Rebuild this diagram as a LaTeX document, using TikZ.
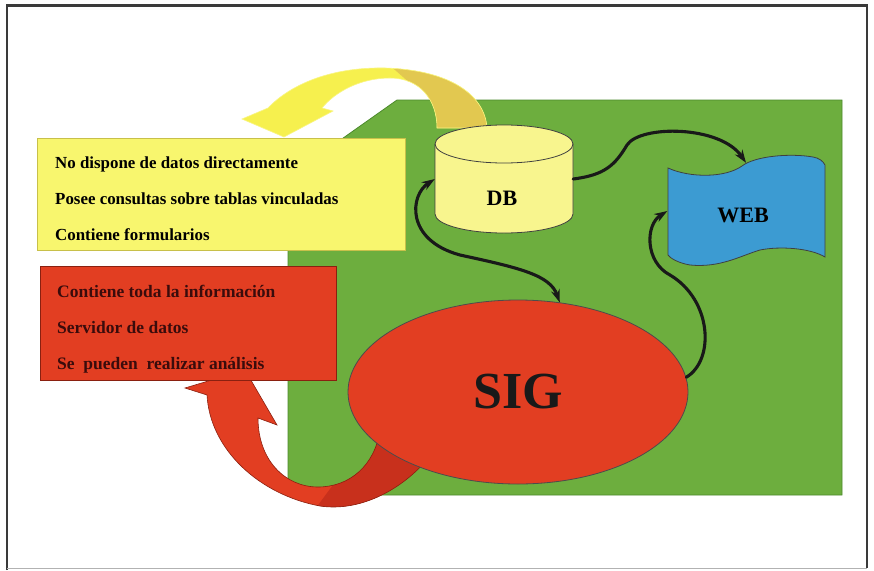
\documentclass[tikz,border=0pt]{standalone}
\usepackage{fontspec}
\setmainfont{Liberation Serif}
\usetikzlibrary{shapes.geometric,arrows.meta}
\definecolor{grn}{HTML}{6DAE3E}
\definecolor{grnline}{HTML}{4C8A2C}
\definecolor{ybox}{HTML}{F8F66E}
\definecolor{yline}{HTML}{C8C04A}
\definecolor{dbfill}{HTML}{F8F58E}
\definecolor{yarrow}{HTML}{F6F04E}
\definecolor{gold}{HTML}{E2C850}
\definecolor{redfill}{HTML}{E23E22}
\definecolor{reddark}{HTML}{C8301C}
\definecolor{redline}{HTML}{8A2010}
\definecolor{bluefill}{HTML}{3C9BD2}
\definecolor{redtext}{HTML}{3A0C0C}
\definecolor{frame}{HTML}{3A3A3A}
\begin{document}
\begin{tikzpicture}[x=1pt,y=-1pt,
  yboxstyle/.style={draw=yline,line width=0.6pt,fill=ybox,minimum width=368pt,minimum height=112pt,inner sep=0pt},
  rboxstyle/.style={draw=redline,line width=0.6pt,fill=redfill,minimum width=296pt,minimum height=114pt,inner sep=0pt},
  ytext/.style={anchor=base west,inner sep=0pt,font=\fontsize{16.9}{18}\selectfont\bfseries,text=black},
  rtext/.style={anchor=base west,inner sep=0pt,font=\fontsize{17.5}{19}\selectfont\bfseries,text=redtext},
  bigtext/.style={inner sep=0pt,font=\fontsize{22}{24}\selectfont\bfseries,text=black},
  conn/.style={line width=3.1pt,black!90,line cap=round},
  tipA/.tip={Stealth[length=13pt,width=9pt]}
]
\useasboundingbox (0,0) rectangle (874,570);
\fill[white] (0,0) rectangle (874,570);
% frame
\draw[frame,line width=1.5pt] (7,570) -- (7,5);
\draw[frame,line width=3pt] (6,5) -- (868,5);
\draw[frame,line width=1.5pt] (867,5) -- (867,568);
\draw[black!30,line width=0.8pt] (7,568) -- (867,568);
% green region
\fill[grn,draw=grnline,line width=0.8pt] (397,100) -- (842,100) -- (842,495) -- (288,495) -- (288,177) -- cycle;
% yellow curved arrow
\def\yarrowpath{(487,128) .. controls (485,95) and (450,70) .. (385,68) .. controls (330,67) and (290,85) .. (268,108) -- (242,119) -- (284,137) -- (333,111) -- (322,108) .. controls (335,92) and (360,78) .. (390,78) .. controls (420,78) and (437,100) .. (437,128) -- cycle}
\fill[yarrow] \yarrowpath;
\begin{scope}
\clip \yarrowpath;
\fill[gold] (378,55) -- (420,92) -- (420,140) -- (500,140) -- (500,55) -- cycle;
\end{scope}
\draw[yarrow!70!white,line width=0.6pt] \yarrowpath;
% red curved arrow
\def\rarrowpath{(207,395) .. controls (210,450) and (260,495) .. (320,506) .. controls (360,512) and (400,490) .. (425,462) -- (380,430) .. controls (375,465) and (350,487) .. (318,487) .. controls (285,487) and (258,460) .. (258,418) -- (277,425) -- (245,370) -- (185,388) -- cycle}
\fill[redfill] \rarrowpath;
\begin{scope}
\clip \rarrowpath;
\fill[reddark] (372,432) -- (313,512) -- (460,512) -- (460,420) -- cycle;
\end{scope}
\draw[redline,line width=0.6pt] \rarrowpath;
% boxes
\node[yboxstyle] (ybox) at (221,194) {};
\node[ytext] (y1) at (55,168) {No dispone de datos directamente};
\node[ytext] (y2) at (55,204) {Posee consultas sobre tablas vinculadas};
\node[ytext] (y3) at (55,240) {Contiene formularios};
\node[rboxstyle] (rbox) at (188,323) {};
\node[rtext] (r1) at (57,297) {Contiene toda la información};
\node[rtext] (r2) at (57,333) {Servidor de datos};
\node[rtext] (r3) at (57,369) {Se\ \ pueden\ \ realizar análisis};
% DB cylinder
\fill[dbfill,draw=black!75,line width=0.8pt] (435,144) -- (435,214) arc[start angle=180,end angle=0,x radius=69,y radius=19] -- (573,144) arc[start angle=0,end angle=-180,x radius=69,y radius=19] -- cycle;
\draw[black!75,line width=0.8pt] (435,144) arc[start angle=180,end angle=0,x radius=69,y radius=19];
\node[inner sep=0pt,minimum width=138pt,minimum height=108pt] (db) at (504,179) {};
\node[bigtext] (dbtext) at (502,198) {DB};
% WEB flag
\fill[bluefill,draw=black!75,line width=0.8pt] (668,168) .. controls (690,178) and (725,178) .. (742,166) .. controls (755,156) and (790,153) .. (813,157) .. controls (819,158) and (823,161) .. (825,165) -- (825,257) .. controls (810,248) and (780,246) .. (760,250) .. controls (740,256) and (720,268) .. (690,265) .. controls (678,263) and (670,258) .. (668,255) -- cycle;
\node[inner sep=0pt,minimum width=157pt,minimum height=108pt] (web) at (746,211) {};
\node[bigtext] (webtext) at (743,215) {WEB};
% SIG ellipse
\node[ellipse,draw=black!70,line width=0.8pt,fill=redfill,minimum width=340pt,minimum height=184pt,inner sep=0pt,font=\fontsize{52}{54}\selectfont\bfseries,text=black!90] (sig) at (518,392) {SIG};
% connectors
\draw[conn,{tipA}-{tipA}] (db.west) .. controls (410,195) and (405,240) .. (460,255) .. controls (520,268) and (550,275) .. (sig.65);
\draw[conn,-{tipA}] (db.east) .. controls (605,175) and (615,165) .. (627,145) .. controls (640,125) and (720,125) .. ([shift={(0,6)}]web.north);
\draw[conn,-{tipA}] (sig.5) .. controls (715,360) and (712,300) .. (670,275) .. controls (645,262) and (645,225) .. (web.west);
\end{tikzpicture}
\end{document}
